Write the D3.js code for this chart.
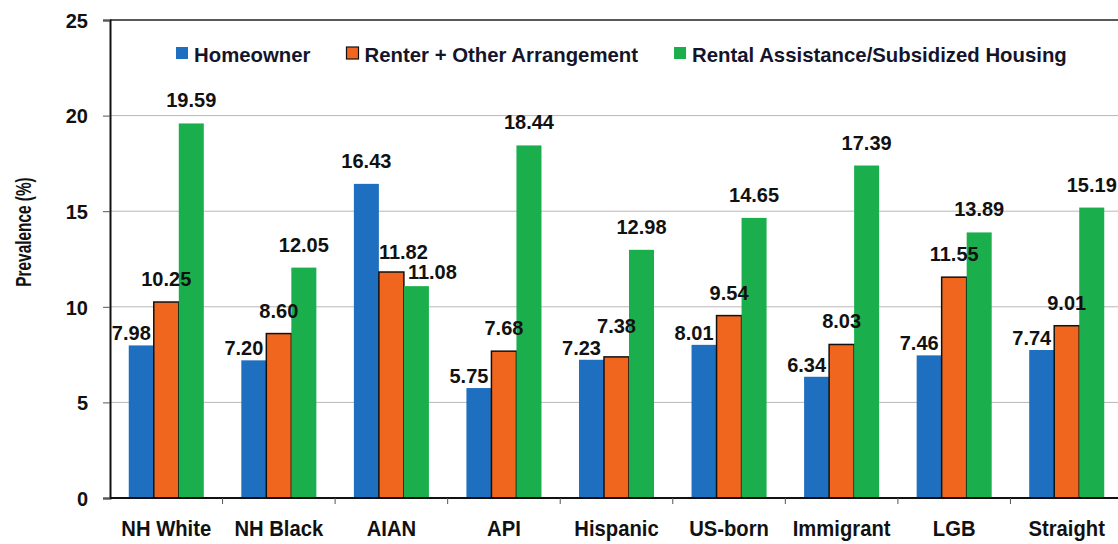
<!DOCTYPE html>
<html>
<head>
<meta charset="utf-8">
<script src="https://cdn.jsdelivr.net/npm/d3@7"></script>
<style>
  body { margin: 0; background: #fff; }
  text { font-family: "Liberation Sans", Arial, sans-serif; font-weight: bold; fill: #111; }
</style>
</head>
<body>
<svg id="chart" width="1118" height="544"></svg>
<script>
// Prevalence (%) by group and housing arrangement
const categories = ["NH White", "NH Black", "AIAN", "API", "Hispanic", "US-born", "Immigrant", "LGB", "Straight"];
const seriesNames = ["Homeowner", "Renter + Other Arrangement", "Rental Assistance/Subsidized Housing"];
const homeowner    = [7.98, 7.20, 16.43, 5.75, 7.23, 8.01, 6.34, 7.46, 7.74];
const renter       = [10.25, 8.60, 11.82, 7.68, 7.38, 9.54, 8.03, 11.55, 9.01];
const rentalAssist = [19.59, 12.05, 11.08, 18.44, 12.98, 14.65, 17.39, 13.89, 15.19];
const yTicks = [0, 5, 10, 15, 20, 25];

const colors = ["#1e6fc0", "#f0661f", "#1aae4c"];
const seriesValues = [homeowner, renter, rentalAssist];

const svg = d3.select("#chart");
const W = 1118;
const plot = { left: 110, top: 20, bottom: 498, right: 1123 };

const x = d3.scaleBand().domain(categories).range([plot.left, plot.right]).padding(0);
const x1 = d3.scaleBand().domain(d3.range(seriesNames.length))
  .range([0, x.bandwidth()]).paddingInner(0).paddingOuter(0.75);
const y = d3.scaleLinear().domain([0, 25]).range([plot.bottom, plot.top]);

// horizontal gridlines
svg.append("g").selectAll("line")
  .data(yTicks.filter(t => t > 0 && t < 25))
  .join("line")
  .attr("x1", plot.left).attr("x2", W)
  .attr("y1", d => y(d)).attr("y2", d => y(d))
  .attr("stroke", "#b8b8b8").attr("stroke-width", 1);

// top frame line
svg.append("line")
  .attr("x1", plot.left).attr("x2", W)
  .attr("y1", y(25)).attr("y2", y(25))
  .attr("stroke", "#222").attr("stroke-width", 1.5);

// y axis
const yAxis = svg.append("g")
  .attr("transform", `translate(${plot.left},0)`)
  .call(d3.axisLeft(y).tickValues(yTicks).tickSize(7).tickPadding(15).tickFormat(d3.format("d")));
yAxis.select(".domain").attr("stroke", "#111").attr("stroke-width", 2);
yAxis.selectAll(".tick line").attr("stroke", "#555");
yAxis.selectAll(".tick text").style("font-size", "20px").attr("dy", "0.36em");

// y axis title
svg.append("text")
  .attr("transform", "translate(31,232) rotate(-90) scale(0.7,1)")
  .attr("text-anchor", "middle")
  .style("font-size", "22px")
  .text("Prevalence (%)");

// bars
const groups = svg.append("g").selectAll("g")
  .data(categories)
  .join("g")
  .attr("transform", d => `translate(${x(d)},0)`);

groups.selectAll("rect")
  .data((d, i) => seriesValues.map((vals, s) => ({ s, v: vals[i] })))
  .join("rect")
  .attr("x", d => x1(d.s))
  .attr("width", x1.bandwidth())
  .attr("y", d => y(d.v))
  .attr("height", d => y(0) - y(d.v))
  .attr("fill", d => colors[d.s])
  .attr("stroke", d => d.s === 1 ? "#111" : "none")
  .attr("stroke-width", d => d.s === 1 ? 1.5 : 0);

// x axis baseline and category ticks
svg.append("line")
  .attr("x1", plot.left).attr("x2", W)
  .attr("y1", plot.bottom).attr("y2", plot.bottom)
  .attr("stroke", "#111").attr("stroke-width", 2);
svg.append("g").selectAll("line")
  .data(categories.slice(1))
  .join("line")
  .attr("x1", d => x(d)).attr("x2", d => x(d))
  .attr("y1", plot.bottom).attr("y2", plot.bottom + 6)
  .attr("stroke", "#555");

svg.append("g").selectAll("text")
  .data(categories)
  .join("text")
  .attr("transform", d => `translate(${x(d) + x.bandwidth() / 2},536) scale(0.92,1)`)
  .attr("text-anchor", "middle")
  .style("font-size", "22px")
  .text(d => d);

// value labels, nudged so neighbouring labels and bars stay clear of each other
const labelLayer = svg.append("g").style("font-size", "20px");
const measure = labelLayer.append("text").attr("visibility", "hidden");
function textWidth(s) { measure.text(s); return measure.node().getComputedTextLength(); }
const capH = 14.3;
function overlap(a, b) {
  return a.x0 < b.x1 && b.x0 < a.x1 && a.y0 < b.y1 + 1 && b.y0 < a.y1 + 1;
}

categories.forEach((cat, i) => {
  const boxes = [];
  seriesValues.forEach((vals, s) => {
    const v = vals[i];
    const label = v.toFixed(2);
    const w = textWidth(label);
    const bx = x(cat) + x1(s);
    const bw = x1.bandwidth();
    const top = y(v);
    let cx = bx + bw / 2, base = top - 16;
    if (s === 0 && homeowner[i] < renter[i]) {
      cx = bx + bw - 3 - w / 2; base = top - 5;
    }
    if (s === 1 && homeowner[i] > renter[i]) {
      cx = bx + w / 2; base = top - 13;
    }
    let box = { x0: cx - w / 2, x1: cx + w / 2, y0: base - capH, y1: base };
    if (s === 1 && boxes[0] && overlap(box, boxes[0])) {
      base = boxes[0].y1 - 22;
    }
    if (s === 2 && boxes[1] && overlap(box, boxes[1])) {
      cx = bx + 4 + w / 2; base = top - 7;
    }
    box = { x0: cx - w / 2, x1: cx + w / 2, y0: base - capH, y1: base };
    boxes.push(box);
    labelLayer.append("text")
      .attr("x", cx).attr("y", base)
      .attr("text-anchor", "middle")
      .text(label);
  });
});
measure.remove();

// legend
const legend = svg.append("g").attr("transform", "translate(176,0)");
const legendScale = 0.97;
let lx = 0;
seriesNames.forEach((name, s) => {
  legend.append("rect")
    .attr("x", lx).attr("y", 47).attr("width", 12).attr("height", 12)
    .attr("fill", colors[s])
    .attr("stroke", s === 1 ? "#111" : "none").attr("stroke-width", 1.2);
  const t = legend.append("text")
    .attr("transform", `translate(${lx + 18},62) scale(${legendScale},1)`)
    .style("font-size", "21px")
    .style("fill", "#15152a")
    .text(name);
  lx += 18 + t.node().getComputedTextLength() * legendScale + 36;
});
</script>
</body>
</html>
